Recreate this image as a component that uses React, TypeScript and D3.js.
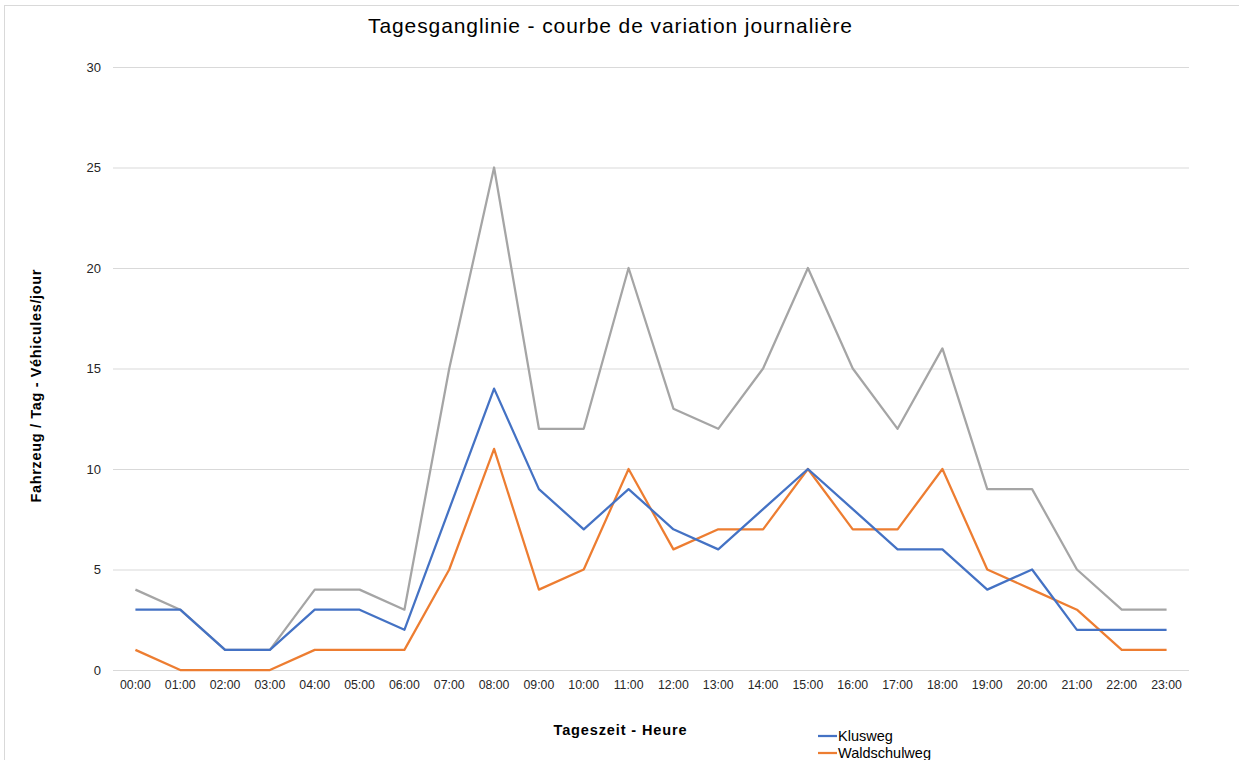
import { useEffect, useRef } from "react";
import * as d3 from "d3";

const hours = [
  "00:00", "01:00", "02:00", "03:00", "04:00", "05:00", "06:00", "07:00",
  "08:00", "09:00", "10:00", "11:00", "12:00", "13:00", "14:00", "15:00",
  "16:00", "17:00", "18:00", "19:00", "20:00", "21:00", "22:00", "23:00",
];

const klusweg = [3, 3, 1, 1, 3, 3, 2, 8, 14, 9, 7, 9, 7, 6, 8, 10, 8, 6, 6, 4, 5, 2, 2, 2];
const waldschulweg = [1, 0, 0, 0, 1, 1, 1, 5, 11, 4, 5, 10, 6, 7, 7, 10, 7, 7, 10, 5, 4, 3, 1, 1];
const total = [4, 3, 1, 1, 4, 4, 3, 15, 25, 12, 12, 20, 13, 12, 15, 20, 15, 12, 16, 9, 9, 5, 3, 3];

const yTicks = [0, 5, 10, 15, 20, 25, 30];

const series = [
  { name: "Klusweg", values: klusweg, color: "#4472C4" },
  { name: "Waldschulweg", values: waldschulweg, color: "#ED7D31" },
  { name: "Total", values: total, color: "#A5A5A5" },
];

const W = 1239;
const H = 760;
const FONT = "'Liberation Sans', Arial, sans-serif";

export default function App() {
  const ref = useRef<SVGSVGElement>(null);

  useEffect(() => {
    const svg = d3.select(ref.current);
    svg.selectAll("*").remove();

    const left = 113, right = 1189, top = 67, bottom = 670;

    // chart border
    svg.append("rect")
      .attr("x", 4.5).attr("y", 5.5)
      .attr("width", W + 10).attr("height", H + 10)
      .attr("fill", "#fff").attr("stroke", "#d9d9d9");

    const x = d3.scaleBand<string>().domain(hours).range([left, right]);
    const y = d3.scaleLinear().domain([0, 30]).range([bottom, top]);

    const grid = svg.append("g");
    grid.selectAll("line")
      .data(yTicks)
      .join("line")
      .attr("x1", left).attr("x2", right)
      .attr("y1", (d) => y(d) + 0.5).attr("y2", (d) => y(d) + 0.5)
      .attr("stroke", "#d9d9d9").attr("stroke-width", 1);

    svg.append("g").selectAll("text")
      .data(yTicks)
      .join("text")
      .attr("x", 101).attr("y", (d) => y(d))
      .attr("dy", "0.35em")
      .attr("text-anchor", "end")
      .attr("font-family", FONT).attr("font-size", 13)
      .attr("fill", "#262626")
      .text((d) => d);

    svg.append("g").selectAll("text")
      .data(hours)
      .join("text")
      .attr("x", (d) => x(d)! + x.bandwidth() / 2)
      .attr("y", 689)
      .attr("text-anchor", "middle")
      .attr("font-family", FONT).attr("font-size", 12.3)
      .attr("fill", "#262626")
      .text((d) => d);

    const line = d3.line<number>()
      .x((_, i) => x(hours[i])! + x.bandwidth() / 2)
      .y((d) => y(d));

    svg.append("g").selectAll("path")
      .data(series.slice().reverse())
      .join("path")
      .attr("d", (s) => line(s.values))
      .attr("fill", "none")
      .attr("stroke", (s) => s.color)
      .attr("stroke-width", 2.25)
      .attr("stroke-linejoin", "round");

    svg.append("text")
      .attr("x", 610).attr("y", 33)
      .attr("text-anchor", "middle")
      .attr("font-family", FONT).attr("font-size", 21)
      .attr("textLength", 484).attr("lengthAdjust", "spacing")
      .attr("fill", "#000")
      .text("Tagesganglinie - courbe de variation journalière");

    svg.append("text")
      .attr("transform", "translate(41,386) rotate(-90)")
      .attr("text-anchor", "middle")
      .attr("font-family", FONT).attr("font-size", 14.5).attr("font-weight", "bold")
      .attr("textLength", 233).attr("lengthAdjust", "spacing")
      .text("Fahrzeug / Tag - Véhicules/jour");

    svg.append("text")
      .attr("x", 620).attr("y", 735)
      .attr("text-anchor", "middle")
      .attr("font-family", FONT).attr("font-size", 14.5).attr("font-weight", "bold")
      .attr("textLength", 133).attr("lengthAdjust", "spacing")
      .text("Tageszeit - Heure");

    const legend = svg.append("g").selectAll("g")
      .data(series)
      .join("g")
      .attr("transform", (_, i) => `translate(818,${736 + i * 17})`);
    legend.append("line")
      .attr("x1", 0).attr("x2", 19)
      .attr("stroke", (s) => s.color).attr("stroke-width", 2.25);
    legend.append("text")
      .attr("x", 20).attr("dy", "0.35em")
      .attr("font-family", FONT).attr("font-size", 14.5)
      .text((s) => s.name);
  }, []);

  return (
    <svg
      ref={ref}
      width={W}
      height={H}
      style={{ position: "absolute", left: 0, top: 0, background: "#fff" }}
    />
  );
}
